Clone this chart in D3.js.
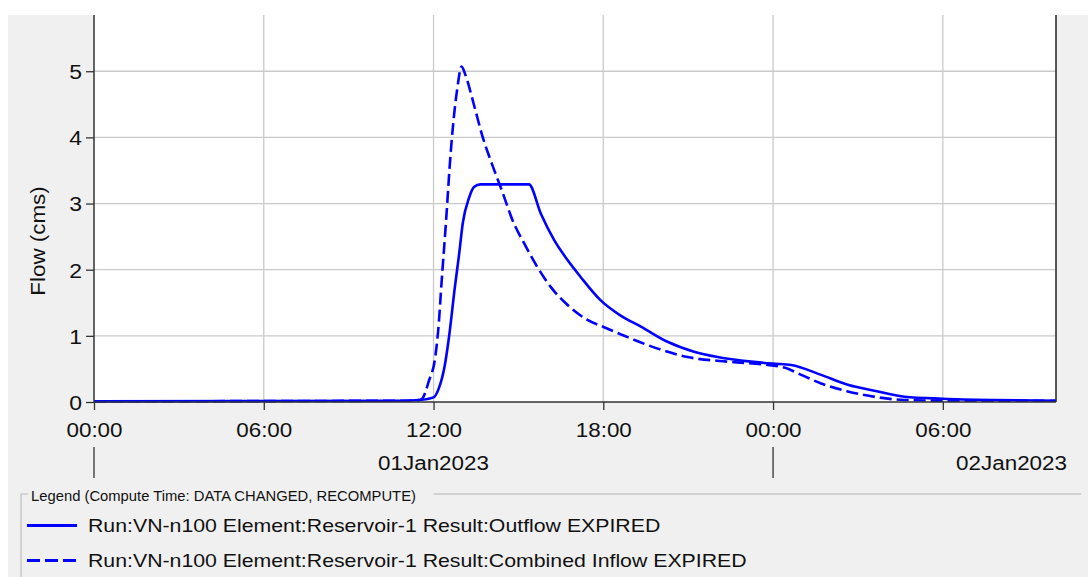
<!DOCTYPE html>
<html>
<head>
<meta charset="utf-8">
<script src="https://cdn.jsdelivr.net/npm/d3@7"></script>
<style>
  html, body { margin: 0; padding: 0; background: #ffffff; }
  svg { display: block; }
  text { font-family: "Liberation Sans", Arial, sans-serif; fill: #111; }
</style>
</head>
<body>
<svg id="chart" width="1088" height="577"></svg>
<script>
// Hydrograph for Reservoir-1, hours counted from 01Jan2023 00:00
const outflowHours = [0, 10.9, 11.5, 12.0, 12.19, 12.40, 12.54, 12.75, 12.90, 13.04, 13.25, 13.43, 13.66,
  15.37, 15.79, 16.26, 16.73, 17.20, 17.90, 18.60, 19.33, 20.27, 21.21, 22.04, 23.22, 24.0,
  24.64, 25.70, 26.64, 27.71, 28.65, 30.0, 31.82, 34.0];
const outflowCms = [0.01, 0.02, 0.03, 0.07, 0.21, 0.56, 0.96, 1.72, 2.22, 2.72, 3.08, 3.25, 3.29,
  3.29, 2.85, 2.45, 2.15, 1.89, 1.54, 1.31, 1.14, 0.91, 0.76, 0.68, 0.61, 0.58,
  0.56, 0.41, 0.26, 0.16, 0.08, 0.05, 0.03, 0.02];

const inflowHours = [0, 10.9, 11.5, 11.6, 11.83, 12.07, 12.19, 12.27, 12.44, 12.60, 12.70, 12.84, 12.99,
  13.13, 13.43, 13.72, 14.08, 14.37, 14.84, 15.20, 15.67, 16.14, 16.73, 17.44, 18.03, 18.86, 20.04,
  20.98, 22.40, 23.81, 24.4, 25.0, 25.70, 26.64, 27.71, 28.65, 30.0, 34.0];
const inflowCms = [0.01, 0.02, 0.03, 0.05, 0.31, 0.71, 1.21, 1.72, 2.72, 3.73, 4.23, 4.74, 5.07,
  4.94, 4.49, 4.03, 3.58, 3.25, 2.70, 2.40, 2.04, 1.74, 1.47, 1.24, 1.13, 0.98, 0.79,
  0.68, 0.61, 0.56, 0.52, 0.41, 0.28, 0.16, 0.07, 0.03, 0.02, 0.02];

const flowTicks = [0, 1, 2, 3, 4, 5];
const dayLabels = ["01Jan2023", "02Jan2023"];
const legendTitle = "Legend (Compute Time: DATA CHANGED, RECOMPUTE)";
const seriesNames = [
  "Run:VN-n100 Element:Reservoir-1 Result:Outflow EXPIRED",
  "Run:VN-n100 Element:Reservoir-1 Result:Combined Inflow EXPIRED"
];

const start = Date.UTC(2023, 0, 1, 0, 0);
const hour = 3600 * 1000;
const toDate = h => new Date(start + h * hour);

const svg = d3.select("#chart");
const plot = { left: 94, right: 1056, top: 15, bottom: 402 };

const x = d3.scaleUtc()
  .domain([toDate(0), toDate(34)])
  .range([plot.left, plot.right]);
const y = d3.scaleLinear()
  .domain([0, 5.85])
  .range([plot.bottom, plot.top]);

// widen glyphs a little so the dialog-style lettering keeps its proportions
function stretch(sel, k) {
  sel.each(function () {
    const L = this.getComputedTextLength();
    d3.select(this).attr("textLength", L * k).attr("lengthAdjust", "spacingAndGlyphs");
  });
}

// panel background and plot area
svg.append("rect").attr("x", 8).attr("y", 15).attr("width", 1080).attr("height", 562).attr("fill", "#f0f0f0");
svg.append("rect").attr("x", plot.left).attr("y", plot.top)
  .attr("width", plot.right - plot.left).attr("height", plot.bottom - plot.top).attr("fill", "#ffffff");

// grid
const timeTicks = x.ticks(d3.utcHour.every(6));
svg.append("g").selectAll("line").data(timeTicks.filter(d => x(d) > plot.left + 1)).join("line")
  .attr("x1", d => x(d)).attr("x2", d => x(d))
  .attr("y1", plot.top).attr("y2", plot.bottom)
  .attr("stroke", "#cacaca").attr("stroke-width", 1.3);
svg.append("g").selectAll("line").data(flowTicks.filter(d => d > 0)).join("line")
  .attr("x1", plot.left).attr("x2", plot.right)
  .attr("y1", d => y(d)).attr("y2", d => y(d))
  .attr("stroke", "#cacaca").attr("stroke-width", 1.3);

// series
svg.append("clipPath").attr("id", "clip").append("rect")
  .attr("x", plot.left).attr("y", plot.top)
  .attr("width", plot.right - plot.left).attr("height", plot.bottom - plot.top + 2);

const line = d3.line()
  .x(d => x(toDate(d[0])))
  .y(d => y(d[1]))
  .curve(d3.curveMonotoneX);

const outflow = outflowHours.map((h, i) => [h, outflowCms[i]]);
const inflow = inflowHours.map((h, i) => [h, inflowCms[i]]);

const series = svg.append("g").attr("clip-path", "url(#clip)");
series.append("path").datum(outflow).attr("d", line)
  .attr("fill", "none").attr("stroke", "#0000ff").attr("stroke-width", 2.6)
  .attr("stroke-linejoin", "round");
series.append("path").datum(inflow).attr("d", line)
  .attr("fill", "none").attr("stroke", "#0000ff").attr("stroke-width", 2.6)
  .attr("stroke-dasharray", "12,5");

// axes frame
svg.append("line").attr("x1", plot.left).attr("x2", plot.left).attr("y1", plot.top).attr("y2", plot.bottom)
  .attr("stroke", "#333").attr("stroke-width", 1.5);
svg.append("line").attr("x1", plot.right).attr("x2", plot.right).attr("y1", plot.top).attr("y2", plot.bottom)
  .attr("stroke", "#222").attr("stroke-width", 1.5);
svg.append("line").attr("x1", plot.left).attr("x2", plot.right).attr("y1", plot.bottom).attr("y2", plot.bottom)
  .attr("stroke", "#333").attr("stroke-width", 1.5);

// y axis
const yAxis = svg.append("g").attr("transform", `translate(${plot.left},0)`)
  .call(d3.axisLeft(y).tickValues(flowTicks).tickSize(8).tickPadding(4).tickFormat(d3.format("d")));
yAxis.select(".domain").remove();
yAxis.selectAll(".tick line").attr("stroke", "#333").attr("stroke-width", 1.3);
yAxis.selectAll(".tick text").attr("font-size", 20.5).attr("fill", "#111")
  .attr("font-family", "Liberation Sans, Arial, sans-serif").attr("dy", "0.36em");
stretch(yAxis.selectAll(".tick text"), 1.12);

svg.append("text")
  .attr("transform", "translate(45,241) rotate(-90)")
  .attr("text-anchor", "middle")
  .attr("font-size", 20)
  .text("Flow (cms)")
  .call(stretch, 1.12);

// x axis
const xAxis = svg.append("g").attr("transform", `translate(0,${plot.bottom})`)
  .call(d3.axisBottom(x).ticks(d3.utcHour.every(6)).tickSize(8).tickFormat(d3.utcFormat("%H:%M")));
xAxis.select(".domain").remove();
xAxis.selectAll(".tick line").attr("stroke", "#333").attr("stroke-width", 1.3);
xAxis.selectAll(".tick text").attr("font-size", 20).attr("fill", "#111")
  .attr("font-family", "Liberation Sans, Arial, sans-serif")
  .attr("y", 35).attr("dy", 0);
stretch(xAxis.selectAll(".tick text"), 1.12);

// day boundaries and date labels
const days = [toDate(0), toDate(24)];
svg.append("g").selectAll("line").data(days).join("line")
  .attr("x1", d => x(d)).attr("x2", d => x(d))
  .attr("y1", 447).attr("y2", 478)
  .attr("stroke", "#333").attr("stroke-width", 1.3);
svg.append("text").attr("x", x(toDate(12))).attr("y", 469.5).attr("text-anchor", "middle")
  .attr("font-size", 20).text(dayLabels[0]).call(stretch, 1.12);
svg.append("text").attr("x", plot.right + 11).attr("y", 469.5).attr("text-anchor", "end")
  .attr("font-size", 20).text(dayLabels[1]).call(stretch, 1.12);

// legend
const legend = svg.append("g");
const title = legend.append("text").attr("x", 31).attr("y", 501)
  .attr("font-size", 14.5).attr("fill", "#222").text(legendTitle);
stretch(title, 1.02);
const titleEnd = 31 + title.node().getComputedTextLength() * 1.02;
legend.append("path")
  .attr("d", `M21,577 V494 H28 M${titleEnd + 10},494 H1081`)
  .attr("fill", "none").attr("stroke", "#b4b4b4").attr("stroke-width", 1);

const rows = [
  { name: seriesNames[0], dash: null, ly: 525.5, ty: 531.5 },
  { name: seriesNames[1], dash: "13,5", ly: 560.5, ty: 567 }
];
rows.forEach(r => {
  legend.append("line").attr("x1", 27).attr("x2", 77).attr("y1", r.ly).attr("y2", r.ly)
    .attr("stroke", "#0000ff").attr("stroke-width", 3)
    .attr("stroke-dasharray", r.dash);
  legend.append("text").attr("x", 88).attr("y", r.ty).attr("font-size", 18.5)
    .text(r.name).call(stretch, 1.15);
});
</script>
</body>
</html>
